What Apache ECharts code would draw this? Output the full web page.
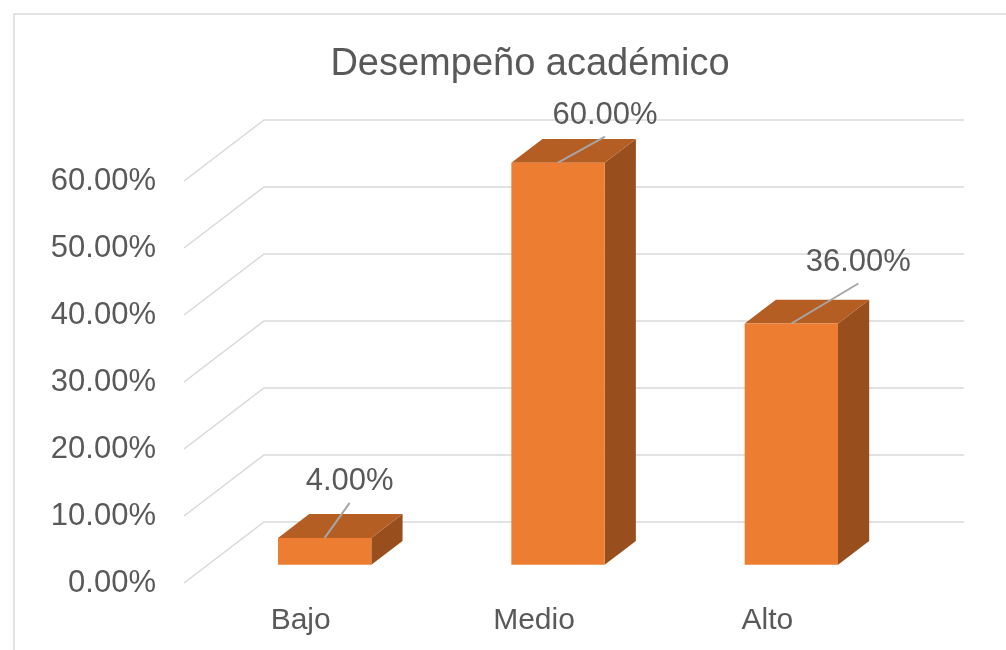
<!DOCTYPE html>
<html>
<head>
<meta charset="utf-8">
<script src="https://cdn.jsdelivr.net/npm/echarts@6/dist/echarts.min.js"></script>
<style>
html,body{margin:0;padding:0;background:#fff;}
#chart{width:1006px;height:650px;}
</style>
</head>
<body>
<div id="chart"></div>
<script>
// ---- data ----
const titleText = 'Desempeño académico';
const categories = ['Bajo', 'Medio', 'Alto'];
const values = [4, 60, 36];           // percent
const yTicks = [0, 10, 20, 30, 40, 50, 60];

// ---- style / layout constants ----
const FONT = '"Liberation Sans", Arial, sans-serif';
const TEXT = '#595959';
const GRID = '#D9D9D9';
const FRONT = '#ED7D31', TOP = '#B45E23', SIDE = '#994F1D';
const WALL_DX = 80, WALL_DY = -61;      // depth offset of back wall
const BAR_D0 = 0.3, BAR_D1 = 0.69;      // bar depth range (0 front .. 1 back)
const labelOffsets = [[25, -56], [47, -47], [67, -61]];

const chart = echarts.init(document.getElementById('chart'));

function gridRender(params, api) {
  const cs = params.coordSys;
  const v = api.value(1);
  const p = api.coord([0, v]);
  const y = p[1];
  const x0 = cs.x;
  return {
    type: 'polyline',
    shape: { points: [[x0, y], [x0 + WALL_DX, y + WALL_DY], [x0 + cs.width + WALL_DX, y + WALL_DY]] },
    style: { stroke: GRID, lineWidth: 1.5, fill: null },
    silent: true
  };
}

function barRender(params, api) {
  const idx = api.value(0);
  const val = api.value(1);
  const p0 = api.coord([idx, 0]);
  const p1 = api.coord([idx, val]);
  const band = api.size([1, 0])[0];
  const w = band * 0.4;
  const fx = WALL_DX * BAR_D0, fy = WALL_DY * BAR_D0;
  const bx = WALL_DX * BAR_D1, by = WALL_DY * BAR_D1;
  const xl = p0[0] - w / 2, xr = p0[0] + w / 2;
  const yb = p0[1], yt = p1[1];
  const off = labelOffsets[params.dataIndex] || [40, -55];
  const ax = p0[0] + fx, ay = yt + fy;
  const lx = ax + off[0], ly = ay + off[1];
  return {
    type: 'group',
    children: [
      { type: 'polygon', shape: { points: [[xr + fx, yt + fy], [xr + bx, yt + by], [xr + bx, yb + by], [xr + fx, yb + fy]] }, style: { fill: SIDE } },
      { type: 'polygon', shape: { points: [[xl + fx, yt + fy], [xr + fx, yt + fy], [xr + bx, yt + by], [xl + bx, yt + by]] }, style: { fill: TOP } },
      { type: 'rect', shape: { x: xl + fx, y: yt + fy, width: w, height: yb - yt }, style: { fill: FRONT } },
      { type: 'line', shape: { x1: ax, y1: ay, x2: lx, y2: ly + 21 }, style: { stroke: '#A6A6A6', lineWidth: 2 } },
      { type: 'text', x: lx, y: ly, style: { text: val.toFixed(2) + '%', fill: TEXT, font: '31px ' + FONT, align: 'center', verticalAlign: 'middle' } }
    ]
  };
}

chart.setOption({
  backgroundColor: '#fff',
  animation: false,
  title: {
    text: titleText, left: 525, top: 41, textAlign: 'center',
    textStyle: { color: TEXT, fontSize: 38, fontWeight: 'normal', fontFamily: FONT }
  },
  graphic: [{
    type: 'rect', shape: { x: 14, y: 14, width: 1100, height: 800 },
    style: { fill: null, stroke: GRID, lineWidth: 1.5 }, silent: true, z: -10
  }],
  grid: { left: 184, right: 122, top: 181, bottom: 67, containLabel: false },
  xAxis: {
    type: 'category', data: categories,
    axisLine: { show: false }, axisTick: { show: false },
    axisLabel: { color: TEXT, fontSize: 30, fontFamily: FONT, margin: 23 }
  },
  yAxis: {
    type: 'value', min: 0, max: 60, interval: 10,
    axisLine: { show: false }, axisTick: { show: false }, splitLine: { show: false },
    axisLabel: { color: TEXT, fontSize: 31, fontFamily: FONT, margin: 28, formatter: v => v.toFixed(2) + '%' }
  },
  series: [
    { type: 'custom', renderItem: gridRender, data: yTicks.map(t => [0, t]), z: 1, silent: true },
    { type: 'custom', renderItem: barRender, data: values.map((v, i) => [i, v]), z: 2 }
  ]
});
</script>
</body>
</html>
